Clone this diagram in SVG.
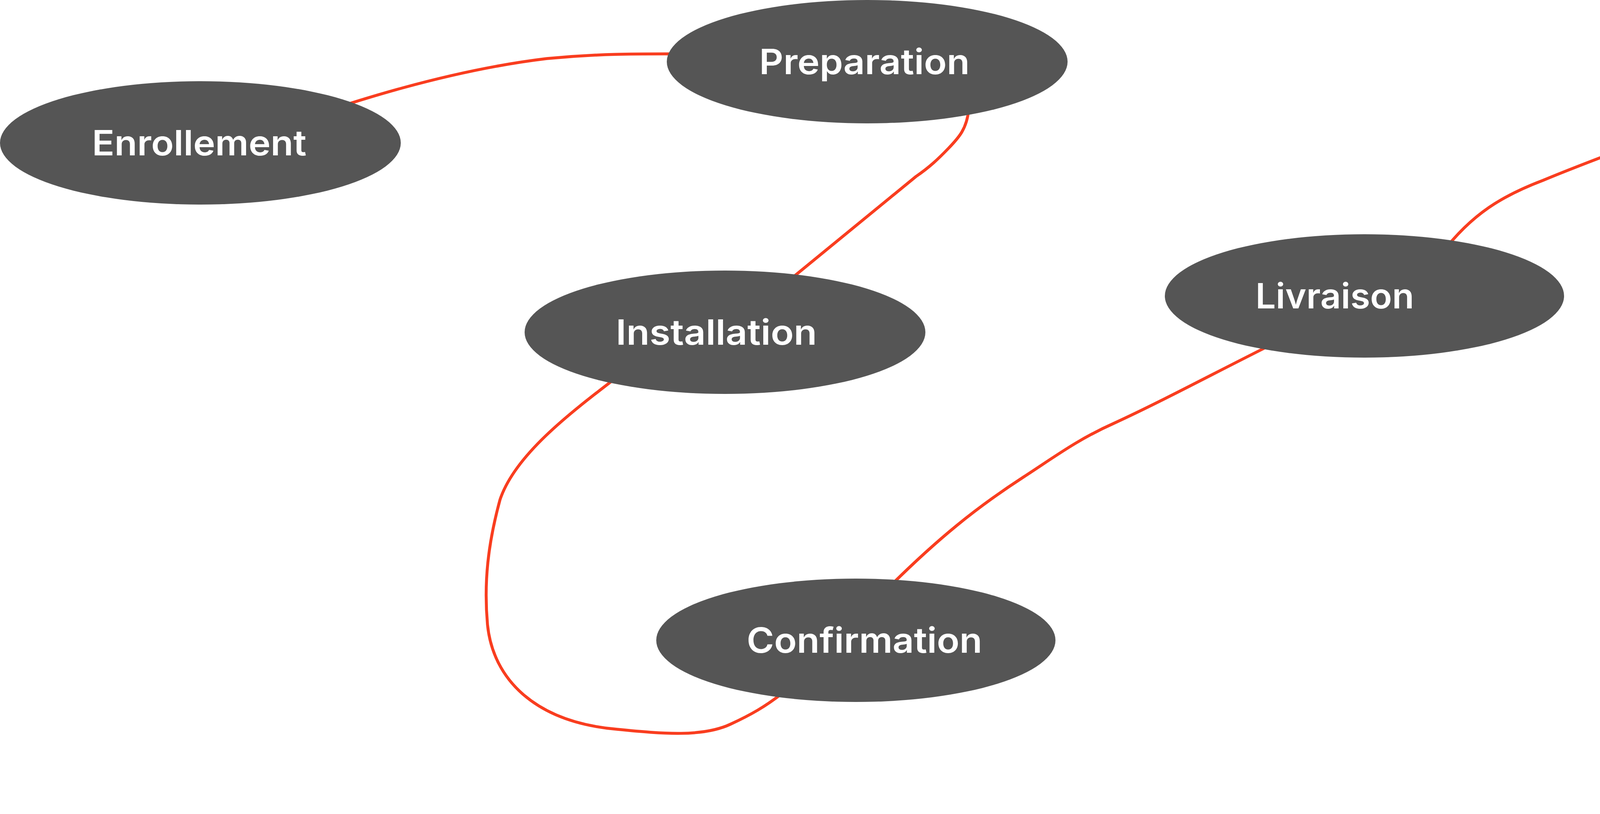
<svg xmlns="http://www.w3.org/2000/svg" width="7017" height="2085" viewBox="0 0 7017 2085">
<style>
.bg{fill:#ffffff}
.node ellipse{fill:#555555}
.node text{fill:#ffffff;font-family:Inter,"Open Sans","Liberation Sans",sans-serif;font-weight:600;font-size:89px;text-anchor:middle}
.edge{fill:none;stroke:#F93D1F;stroke-width:7.5;stroke-linecap:round;stroke-linejoin:round}
.head{fill:none;stroke:#F53E1E;stroke-width:8.5;stroke-linecap:round;stroke-linejoin:round}
</style>
<rect class="bg" x="0" y="0" width="7017" height="2085"/>
<g id="connectors">
<path class="edge" d="M 700 330 C 900 260, 1150 180, 1400 150 C 1550 136, 1650 138, 1760 138"/>
<path class="edge" d="M 2480 280 C 2475 330, 2455 352, 2428 380 C 2402 407, 2380 428, 2345 452 L 2030 710"/>
<path class="edge" d="M 1600 950 C 1470 1050, 1320 1160, 1280 1280 C 1250 1390, 1238 1490, 1248 1600 C 1262 1740, 1370 1850, 1580 1868 C 1700 1880, 1800 1888, 1870 1855 C 1920 1832, 1960 1810, 2010 1770"/>
<path class="edge" d="M 2270 1510 C 2400 1380, 2500 1300, 2620 1222 C 2700 1170, 2760 1125, 2850 1085 C 2970 1030, 3100 960, 3260 880"/>
<path class="edge" d="M 3690 650 C 3770 545, 3850 500, 3950 462 C 4050 420, 4150 385, 4260 340"/>
<path class="edge" d="M 4770 430 C 4755 690, 4690 880, 4615 1140 C 4550 1360, 4545 1550, 4582 1800"/>
<path class="edge" d="M 5200 1860 C 5330 1775, 5440 1700, 5550 1620 L 6120 1190"/>
<path class="edge" d="M 6470 960 C 6550 880, 6600 820, 6650 785 C 6700 750, 6740 718, 6790 680 C 6830 650, 6870 620, 6897 598"/>
<path class="head" d="M 6765 533 C 6850 531, 6920 526, 6975 523 C 6995 523, 7010 527, 7012 536 C 7016 560, 7000 600, 6970 650 C 6945 693, 6925 715, 6918 735"/>
</g>
<g id="node-enrollement" class="node"><ellipse cx="513" cy="366" rx="513" ry="158"/><text x="510" y="398" textLength="549" lengthAdjust="spacingAndGlyphs">Enrollement</text></g>
<g id="node-preparation" class="node"><ellipse cx="2220" cy="158" rx="513" ry="158"/><text x="2213" y="190" textLength="539" lengthAdjust="spacingAndGlyphs">Preparation</text></g>
<g id="node-installation" class="node"><ellipse cx="1856" cy="851" rx="513" ry="158"/><text x="1834" y="883" textLength="515" lengthAdjust="spacingAndGlyphs">Installation</text></g>
<g id="node-confirmation" class="node"><ellipse cx="2191" cy="1640" rx="511" ry="158"/><text x="2213" y="1672" textLength="603" lengthAdjust="spacingAndGlyphs">Confirmation</text></g>
<g id="node-livraison" class="node"><ellipse cx="3493" cy="758" rx="511" ry="158"/><text x="3417" y="790" textLength="406" lengthAdjust="spacingAndGlyphs">Livraison</text></g>
<g id="node-supervision" class="node"><ellipse cx="4715" cy="318" rx="511" ry="158"/><text x="4703" y="350" textLength="530" lengthAdjust="spacingAndGlyphs">Supervision</text></g>
<g id="node-reinvestissement" class="node"><ellipse cx="4819" cy="1924" rx="511" ry="158"/><text x="4803" y="1956" textLength="810" lengthAdjust="spacingAndGlyphs">Reinvestissement</text></g>
<g id="node-suivie" class="node"><ellipse cx="6307" cy="1076" rx="511" ry="158"/><text x="6309" y="1108" textLength="266" lengthAdjust="spacingAndGlyphs">Suivie</text></g>
</svg>
